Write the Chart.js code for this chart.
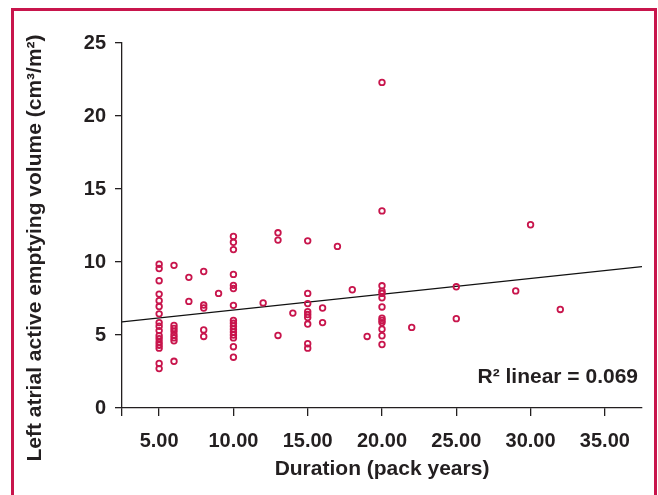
<!DOCTYPE html>
<html>
<head>
<meta charset="utf-8">
<title>Left atrial active emptying volume vs pack years</title>
<script src="https://cdn.jsdelivr.net/npm/chart.js@4.4.0/dist/chart.umd.min.js"></script>
<style>
  body { margin: 0; background: #fff; }
  #wrap { position: relative; width: 658px; height: 495px; overflow: hidden; }
  #frame { position: absolute; left: 11px; top: 8px; width: 640px; height: 500px;
           border: 3px solid #c8154c; border-bottom: none; }
  #chart { position: absolute; left: 0; top: 0; }
</style>
</head>
<body>
<div id="wrap">
  <div id="frame"></div>
  <canvas id="chart" width="658" height="495"></canvas>
</div>
<script>
// duration (pack years) and LA active emptying volume, one entry per patient
var packYears = [
  5, 5, 5, 5, 5, 5, 5, 5, 5, 5, 5, 5, 5, 5, 5, 5, 5,
  6, 6, 6, 6, 6, 6, 6, 6,
  7, 7,
  8, 8, 8, 8, 8,
  9,
  10, 10, 10, 10, 10, 10, 10, 10, 10, 10, 10, 10, 10, 10, 10, 10,
  12,
  13, 13, 13,
  14,
  15, 15, 15, 15, 15, 15, 15, 15, 15,
  16, 16,
  17,
  18,
  19,
  20, 20, 20, 20, 20, 20, 20, 20, 20, 20, 20, 20, 20,
  22,
  25, 25,
  29,
  30,
  32
];
var laVolume = [
  9.85, 9.55, 8.72, 7.8, 7.35, 6.95, 6.45, 5.85, 5.6, 5.3, 4.95, 4.75, 4.5, 4.3, 4.1, 3.05, 2.7,
  9.77, 5.65, 5.45, 5.25, 5.0, 4.8, 4.6, 3.2,
  8.95, 7.3,
  9.35, 7.05, 6.85, 5.35, 4.9,
  7.85,
  11.75, 11.35, 10.85, 9.15, 8.4, 8.18, 7.03, 6.0, 5.8, 5.6, 5.4, 5.2, 5.0, 4.8, 4.2, 3.48,
  7.2,
  12.0, 11.5, 4.97,
  6.5,
  11.45, 7.85, 7.15, 6.6, 6.4, 6.2, 5.75, 4.4, 4.1,
  6.85, 5.85,
  11.07,
  8.1,
  4.9,
  22.3, 13.5, 8.37, 8.0, 7.85, 7.55, 6.92, 6.15, 6.0, 5.85, 5.4, 4.95, 4.35,
  5.52,
  8.3, 6.12,
  8.02,
  12.55,
  6.75
];

// fitted line end points
var fitX = [2.5, 37.5];
var fitY = [5.9, 9.69];

var xTickValues = [5, 10, 15, 20, 25, 30, 35];
var yTickValues = [0, 5, 10, 15, 20, 25];

var xTitle = 'Duration (pack years)';
var yTitle = 'Left atrial active emptying volume (cm\u00b3/m\u00b2)';
var r2Label = 'R\u00b2 linear = 0.069';

var ink = '#231f20';
var red = '#c8154c';
var fontFam = '"Liberation Sans", Arial, Helvetica, sans-serif';

var points = [];
for (var i = 0; i < packYears.length; i++) {
  points.push({ x: packYears[i], y: laVolume[i] });
}
var fitLine = [];
for (var j = 0; j < fitX.length; j++) {
  fitLine.push({ x: fitX[j], y: fitY[j] });
}

var textPlugin = {
  id: 'textPlugin',
  afterDraw: function(chart) {
    var ctx = chart.ctx;
    var a = chart.chartArea;
    ctx.save();
    ctx.fillStyle = ink;
    ctx.textBaseline = 'alphabetic';

    ctx.font = 'bold 21px ' + fontFam;
    ctx.textAlign = 'center';
    ctx.fillText(xTitle, (a.left + a.right) / 2, a.bottom + 66.5);

    ctx.textAlign = 'right';
    ctx.fillText(r2Label, a.right - 4, a.bottom - 25.5);

    ctx.translate(41, 248);
    ctx.rotate(-Math.PI / 2);
    ctx.textAlign = 'center';
    ctx.fillText(yTitle, 0, 0);
    ctx.restore();
  }
};

new Chart(document.getElementById('chart'), {
  type: 'scatter',
  data: {
    datasets: [{
      label: 'Patients',
      data: points,
      pointStyle: 'circle',
      pointRadius: 2.8,
      pointBorderWidth: 1.8,
      borderColor: red,
      backgroundColor: 'rgba(0,0,0,0)'
    }, {
      type: 'line',
      label: 'Linear fit',
      data: fitLine,
      borderColor: '#111',
      borderWidth: 1.3,
      pointRadius: 0,
      fill: false
    }]
  },
  options: {
    responsive: false,
    animation: false,
    events: [],
    layout: { padding: { top: 43, right: 16, bottom: 0, left: 0 } },
    plugins: {
      legend: { display: false },
      tooltip: { enabled: false }
    },
    scales: {
      x: {
        type: 'linear',
        min: 2.5,
        max: 37.5,
        afterBuildTicks: function(s) {
          s.ticks = [{ value: 2.5 }].concat(xTickValues.map(function(v) { return { value: v }; }));
        },
        afterFit: function(s) { s.height = 87; },
        ticks: {
          autoSkip: false,
          maxRotation: 0,
          padding: 13,
          color: ink,
          font: { family: fontFam, size: 20, weight: 'bold' },
          callback: function(v) { return v === 2.5 ? '' : v.toFixed(2); }
        },
        grid: { drawOnChartArea: false, drawTicks: true, tickLength: 8, color: ink, lineWidth: 1.3 },
        border: { display: true, color: ink, width: 1.3 }
      },
      y: {
        type: 'linear',
        min: 0,
        max: 25,
        afterBuildTicks: function(s) {
          s.ticks = yTickValues.map(function(v) { return { value: v }; });
        },
        afterFit: function(s) { s.width = 122; },
        ticks: {
          padding: 9,
          color: ink,
          font: { family: fontFam, size: 20, weight: 'bold' },
          callback: function(v) { return String(v); }
        },
        grid: { drawOnChartArea: false, drawTicks: true, tickLength: 7, color: ink, lineWidth: 1.3 },
        border: { display: true, color: ink, width: 1.3 }
      }
    }
  },
  plugins: [textPlugin]
});
</script>
</body>
</html>
